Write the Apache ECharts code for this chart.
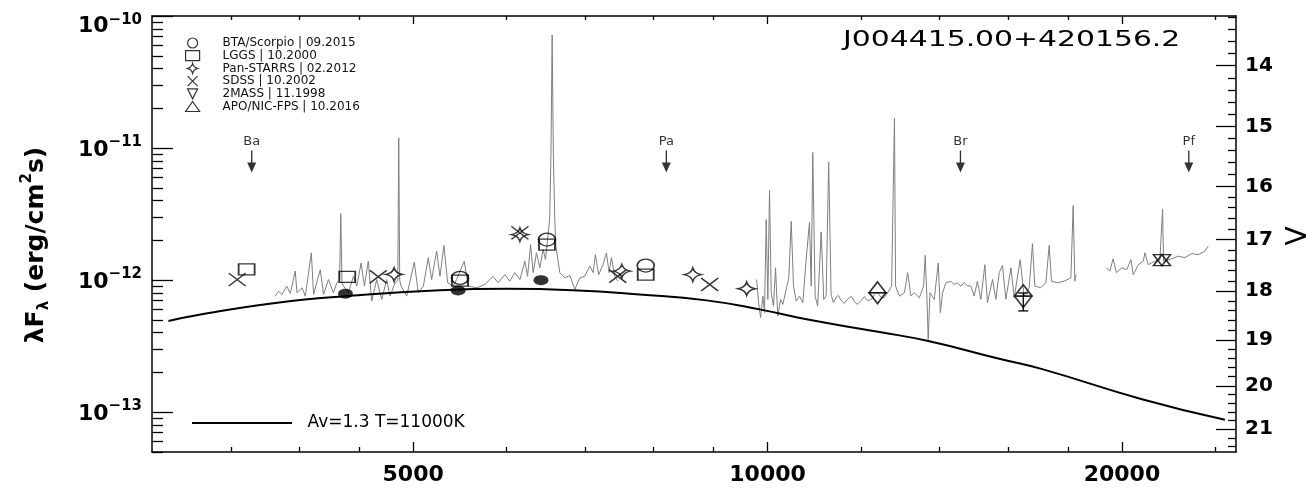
<!DOCTYPE html>
<html><head><meta charset="utf-8">
<script src="https://cdn.jsdelivr.net/npm/echarts@6/dist/echarts.min.js"></script>
<style>html,body{margin:0;padding:0;background:#fff}#c{width:1316px;height:489px}</style>
</head><body><div id="c"></div><script>
// ---------------- axes ----------------
const X_MIN = 3000, X_MAX = 25000;
const Y_MIN = 5e-14, Y_MAX = 1e-10;
const X_MAJOR_TICKS = [5000, 10000, 20000];
const X_MINOR_TICKS = [3500, 4000, 4500, 6000, 7000, 8000, 9000, 12000, 14000, 16000, 18000, 24000];
const Y_MAJOR_TICKS = [1e-13, 1e-12, 1e-11, 1e-10];
const Y_MINOR_MULT = [2, 3, 4, 5, 6, 7, 8, 9];
const V_LABELS = ['14', '15', '16', '17', '18', '19', '20', '21'];
const V_TICK_FLUX = [4.21e-11, 1.456e-11, 5.13e-12, 2.03e-12, 8.26e-13, 3.52e-13, 1.583e-13, 7.45e-14];

// ---------------- spectrum (gray) ----------------
const SPEC_OPTICAL = [
 [3818,7.57e-13],[3843,8.26e-13],[3868,7.80e-13],[3905,9.01e-13],[3932,7.93e-13],[3970,1.17e-12],[3984,8.03e-13],
 [4023,8.76e-13],[4049,7.57e-13],[4097,1.61e-12],[4115,7.80e-13],[4169,1.20e-12],[4196,7.80e-13],[4237,1.01e-12],
 [4278,8.03e-13],[4307,9.56e-13],[4330,1.0e-12],[4340,3.19e-12],[4350,9.5e-13],[4363,9.01e-13],[4405,8.03e-13],[4449,1.07e-12],
 [4478,9.01e-13],[4516,1.35e-12],[4545,9.01e-13],[4580,1.39e-12],[4611,6.94e-13],[4656,1.01e-12],[4702,7.15e-13],
 [4748,1.01e-12],[4779,7.57e-13],[4826,9.56e-13],[4852,1.0e-12],[4861,1.196e-11],[4870,1.0e-12],[4883,9.01e-13],[4937,7.57e-13],
 [5011,1.37e-12],[5050,8.03e-13],[5101,9.01e-13],[5150,1.48e-12],[5184,1.01e-12],[5235,1.66e-12],[5269,1.07e-12],
 [5310,1.83e-12],[5349,9.56e-13],[5408,9.01e-13],[5443,1.01e-12],[5525,1.39e-12],[5568,9.01e-13],[5664,8.76e-13],
 [5753,9.28e-13],[5846,1.07e-12],[5903,9.56e-13],[5982,1.10e-12],[6040,9.83e-13],[6099,1.14e-12],[6161,1.01e-12],
 [6221,1.39e-12],[6254,1.07e-12],[6291,1.86e-12],[6323,1.14e-12],[6364,1.61e-12],[6406,1.24e-12],[6447,1.71e-12],
 [6477,1.43e-12],[6503,2.03e-12],[6530,2.9e-12],[6547,9.2e-12],[6562,7.17e-11],[6577,9.2e-12],[6596,2.9e-12],
 [6610,1.81e-12],[6661,1.14e-12],[6726,1.04e-12],[6793,1.085e-12],[6860,8.51e-13],[6926,1.04e-12],[6994,1.07e-12],
 [7063,1.28e-12],[7109,1.14e-12],[7141,1.56e-12],[7187,1.10e-12],[7249,1.31e-12],[7297,1.61e-12],[7335,1.14e-12],
 [7369,1.48e-12],[7417,1.07e-12],[7464,9.83e-13]
];
const SPEC_NIR = [
 [9788,1.01e-12],[9827,6.75e-13],[9865,5.20e-13],[9909,7.57e-13],[9941,5.67e-13],[9974,2.87e-12],[10006,7.15e-13],
 [10039,4.78e-12],[10072,8.03e-13],[10117,6.36e-13],[10157,1.24e-12],[10202,5.35e-13],[10258,7.15e-13],[10304,6.55e-13],
 [10372,8.51e-13],[10424,1.04e-12],[10474,2.79e-12],[10521,9.01e-13],[10577,6.94e-13],[10645,7.57e-13],[10714,6.75e-13],
 [10784,1.43e-12],[10855,2.74e-12],[10891,9.01e-13],[10925,9.26e-12],[10976,7.57e-13],[11031,6.36e-13],[11106,2.32e-12],
 [11162,7.15e-13],[11214,7.57e-13],[11270,7.84e-12],[11324,7.80e-13],[11375,6.75e-13],[11435,7.40e-13],[11487,7.66e-13],
 [11548,7.00e-13],[11623,6.67e-13],[11696,7.20e-13],[11783,7.53e-13],[11852,6.90e-13],[11920,6.55e-13],[12006,7.00e-13],
 [12084,7.53e-13],[12161,7.00e-13],[12252,7.15e-13],[12324,7.80e-13],[12396,8.10e-13],[12486,7.40e-13],[12567,7.40e-13],
 [12647,8.03e-13],[12747,9.01e-13],
 [12818,1.685e-11],[12846,9.01e-13],[12942,7.57e-13],[13069,8.03e-13],[13152,1.14e-12],[13238,7.57e-13],[13323,8.03e-13],
 [13456,7.36e-13],[13569,9.01e-13],[13613,1.54e-12],[13659,7.15e-13],[13693,3.56e-13],[13740,8.03e-13],[13855,7.15e-13],
 [13965,1.35e-12],[14021,5.67e-13],[14084,8.03e-13],[14176,9.56e-13],[14315,9.80e-13],[14400,9.30e-13],[14499,9.50e-13],
 [14600,9.00e-13],[14691,9.60e-13],[14780,9.10e-13],
 [14885,9.01e-13],[14981,7.57e-13],[15076,9.83e-13],[15179,7.15e-13],[15297,1.31e-12],[15374,6.75e-13],[15528,1.01e-12],
 [15630,7.15e-13],[15733,1.14e-12],[15834,1.29e-12],[15939,7.15e-13],[16097,1.24e-12],[16201,7.36e-13],[16391,1.43e-12],
 [16518,7.57e-13],[16682,8.76e-13],[16790,1.89e-12],[16867,9.01e-13],[17068,8.76e-13],[17235,9.56e-13],[17348,1.83e-12],
 [17426,9.83e-13],[17629,9.56e-13],[17864,9.83e-13],[18100,1.04e-12],[18181,3.67e-12],[18240,9.83e-13],[18287,1.10e-12]
];
const SPEC_K = [
 [19407,1.24e-12],[19533,1.17e-12],[19658,1.45e-12],[19787,1.14e-12],[19996,1.24e-12],[20190,1.20e-12],[20355,1.43e-12],
 [20449,1.10e-12],[20651,1.31e-12],[20854,1.39e-12],[20922,1.61e-12],[21056,1.31e-12],[21332,1.39e-12],[21543,1.43e-12],
 [21655,3.46e-12],[21698,1.39e-12],[22045,1.45e-12],[22329,1.52e-12],[22622,1.48e-12],[22922,1.59e-12],[23218,1.56e-12],
 [23525,1.66e-12],[23677,1.81e-12]
];

// ---------------- model ----------------
const MODEL_NAME = 'Av=1.3 T=11000K';
const MODEL_WAVE = [3098, 3299, 3833, 4377, 5269, 6008, 6833, 7787, 8875, 9845, 10791, 12446, 13694, 15733, 17113, 20800, 24462];
const MODEL_FLUX = [4.90e-13, 5.50e-13, 6.75e-13, 7.57e-13, 8.40e-13, 8.61e-13, 8.40e-13, 7.80e-13, 7.03e-13, 6.01e-13, 5.05e-13, 4.05e-13, 3.46e-13, 2.54e-13, 2.12e-13, 1.256e-13, 8.76e-14];

// ---------------- photometry ----------------
const BTA = [[5480,1.04e-12],[6496,2.03e-12],[7880,1.29e-12]];
const LGGS = [[3610,1.205e-12],[4395,1.06e-12],[5480,0.99e-12],[6496,1.86e-12],[7880,1.10e-12]];
const PANSTARRS = [[4817,1.104e-12],[6161,2.21e-12],[7520,1.17e-12],[8640,1.10e-12],[9600,0.861e-12]];
const SDSS = [[3544,1.01e-12],[4670,1.06e-12],[6161,2.28e-12],[7460,1.07e-12],[8930,0.928e-12]];
const TWOMASS = [[12400,0.731e-12],[16490,0.684e-12],[21630,1.416e-12]];
const TWOMASS_ERR = [[16490,0.585e-12,0.80e-12]];
const APO = [[12400,0.881e-12],[16490,0.839e-12],[21630,1.416e-12]];
const DERED = [[4380,7.89e-13],[5460,8.36e-13],[6420,1.0e-12]];

// ---------------- series limits ----------------
const LIMIT_NAMES = ['Ba', 'Pa', 'Br', 'Pf'];
const LIMIT_WAVE = [3646, 8204, 14584, 22794];
const LIMIT_LEVEL = 7.9e-12;

const TITLE = 'J004415.00+420156.2';
const NAMES = ['BTA/Scorpio | 09.2015', 'LGGS | 10.2000', 'Pan-STARRS | 02.2012', 'SDSS | 10.2002', '2MASS | 11.1998', 'APO/NIC-FPS | 10.2016'];

// ---------------- build ----------------
const FONT = 'DejaVu Sans';
const Y_MINOR_TICKS = [];
for (let e = -14; e <= -11; e++) for (const m of Y_MINOR_MULT) { const v = m * Math.pow(10, e); if (v >= Y_MIN && v <= Y_MAX) Y_MINOR_TICKS.push(v); }
const V_MINOR = [];
const lg = V_TICK_FLUX.map(Math.log10);
for (let i = 0; i < lg.length - 1; i++) for (let k = 1; k < 5; k++) V_MINOR.push(Math.pow(10, lg[i] + (lg[i + 1] - lg[i]) * k / 5));
for (let k = 1; k < 5; k++) { const v = Math.pow(10, lg[0] - (lg[1] - lg[0]) * k / 5); if (v < Y_MAX) V_MINOR.push(v); }
const nL = lg.length;
for (let k = 1; k < 5; k++) { const v = Math.pow(10, lg[nL - 1] + (lg[nL - 1] - lg[nL - 2]) * k / 5); if (v > Y_MIN) V_MINOR.push(v); }

const AX = '#000';
function logX(pos, ticks, len, showLine, labels) {
  return {
    type: 'log', logBase: 10, min: X_MIN, max: X_MAX, position: pos,
    axisLine: { show: showLine, onZero: false, lineStyle: { color: AX, width: 1.5 } },
    axisTick: { show: true, inside: true, length: len, customValues: ticks, lineStyle: { color: AX, width: 1.3 } },
    axisLabel: labels ? { show: true, customValues: ticks, formatter: v => String(Math.round(v)), fontSize: 22, fontWeight: 'bold', fontFamily: FONT, color: '#000', margin: 12 } : { show: false },
    splitLine: { show: false }, minorTick: { show: false }
  };
}
function logY(pos, ticks, len, showLine, labelCfg) {
  return {
    type: 'log', logBase: 10, min: Y_MIN, max: Y_MAX, position: pos,
    axisLine: { show: showLine, onZero: false, lineStyle: { color: AX, width: 1.5 } },
    axisTick: { show: true, inside: true, length: len, customValues: ticks, lineStyle: { color: AX, width: 1.3 } },
    axisLabel: labelCfg ? Object.assign({ show: true, customValues: ticks }, labelCfg) : { show: false },
    splitLine: { show: false }, minorTick: { show: false }
  };
}

const SYM_STAR = 'path://M5,0Q6,4 10,5Q6,6 5,10Q4,6 0,5Q4,4 5,0Z';
const SYM_X = 'path://M0,0L10,10M10,0L0,10';
const SYM_TDOWN = 'path://M0,0L10,0L5,10Z';
const SYM_ARROW = 'path://M4.4,0L5.6,0L5.6,12L9,12L5,22L1,12L4.4,12Z';
const hollow = { color: 'rgba(0,0,0,0)', borderColor: '#000', borderWidth: 1.5 };

function marker(name, data, symbol, size) {
  return { name, type: 'scatter', data, symbol, symbolSize: size, itemStyle: hollow, z: 5, silent: true };
}
function spec(data) {
  return { type: 'line', data, symbol: 'none', lineStyle: { color: '#7f7f7f', width: 1 }, z: 1, silent: true };
}
const bold = (size, extra) => Object.assign({ fontSize: size, fontWeight: 'bold', fontFamily: FONT, color: '#000' }, extra);

const option = {
  animation: false,
  backgroundColor: '#fff',
  grid: { left: 152, right: 80, top: 16, bottom: 37, containLabel: false, outerBoundsMode: 'none' },
  xAxis: [
    logX('bottom', X_MAJOR_TICKS, 10, true, true),
    logX('bottom', X_MINOR_TICKS, 5, false, false),
    logX('top', X_MAJOR_TICKS, 8, true, false),
    logX('top', X_MINOR_TICKS, 4, false, false)
  ],
  yAxis: [
    logY('left', Y_MAJOR_TICKS, 21, true, {
      margin: 10,
      formatter: v => {
        const e = -Math.round(Math.log10(v));
        return e === 10 ? '{bt|10}{et|−10}' : '{b|10}{e|−' + e + '}';
      },
      rich: {
        b: bold(22, { lineHeight: 22, padding: [4, 0, 0, 0] }),
        e: bold(15, { lineHeight: 14, padding: [4, 0, 16, 0] }),
        bt: bold(22, { lineHeight: 22, padding: [20, 0, 0, 0] }),
        et: bold(15, { lineHeight: 14, padding: [22, 0, 14, 0] })
      }
    }),
    logY('left', Y_MINOR_TICKS, 11, false, null),
    logY('right', V_TICK_FLUX, 20, true, {
      margin: 9, fontSize: 20, fontWeight: 'bold', fontFamily: FONT, color: '#000',
      formatter: v => {
        let best = 0, d = 1e9;
        V_TICK_FLUX.forEach((f, i) => { const dd = Math.abs(Math.log10(f) - Math.log10(v)); if (dd < d) { d = dd; best = i; } });
        return V_LABELS[best];
      }
    }),
    logY('right', V_MINOR, 8, false, null)
  ],
  legend: [{
    data: NAMES, orient: 'vertical', left: 185, top: 37, padding: 0, itemWidth: 14, itemHeight: 10, itemGap: 0.7,
    selectedMode: false, itemStyle: { borderWidth: 1.2 },
    textStyle: { fontSize: 12, lineHeight: 12, color: '#111', fontFamily: FONT, padding: [0, 0, 0, 18] }
  }, {
    data: [{ name: MODEL_NAME, icon: 'path://M0,0L100,0L100,2L0,2Z' }], left: 192, top: 413, padding: 0,
    itemWidth: 101, itemHeight: 2, selectedMode: false,
    textStyle: { fontSize: 17, lineHeight: 20, color: '#000', fontFamily: FONT, padding: [0, 0, 0, 10] }
  }],
  graphic: [
    { type: 'text', x: 843, y: 41, scaleX: 1.42, style: { text: TITLE, fontSize: 21, fontFamily: FONT, fill: '#000', verticalAlign: 'middle' } },
    { type: 'text', x: 36, y: 245, rotation: Math.PI / 2, style: {
        text: '{m|λF}{s|λ}{m| (erg/cm}{p|2}{m|s)}', align: 'center', verticalAlign: 'middle',
        rich: {
          m: { fontSize: 25, fontWeight: 'bold', fontFamily: FONT, fill: '#000', lineHeight: 32, verticalAlign: 'middle' },
          s: { fontSize: 15, fontWeight: 'bold', fontFamily: FONT, fill: '#000', lineHeight: 14, verticalAlign: 'bottom' },
          p: { fontSize: 15, fontWeight: 'bold', fontFamily: FONT, fill: '#000', lineHeight: 14, verticalAlign: 'top' }
        } } },
    { type: 'text', x: 1299, y: 236, rotation: Math.PI / 2, style: { text: 'V', fontSize: 28, fontFamily: FONT, fill: '#000', align: 'center', verticalAlign: 'middle' } }
  ],
  series: [
    spec(SPEC_OPTICAL), spec(SPEC_NIR), spec(SPEC_K),
    { name: MODEL_NAME, type: 'line', data: MODEL_WAVE.map((w, i) => [w, MODEL_FLUX[i]]), symbol: 'none', smooth: true,
      lineStyle: { color: '#000', width: 2 }, itemStyle: { color: '#000' }, z: 3, silent: true },
    { type: 'scatter', data: DERED, symbol: 'circle', symbolSize: [15, 10], itemStyle: { color: '#000' }, z: 4, silent: true },
    marker(NAMES[0], BTA, 'circle', [17, 13]),
    marker(NAMES[1], LGGS, 'rect', [16, 11]),
    marker(NAMES[2], PANSTARRS, SYM_STAR, [17, 13]),
    marker(NAMES[3], SDSS, SYM_X, [17, 13]),
    marker(NAMES[4], TWOMASS, SYM_TDOWN, [17, 11]),
    marker(NAMES[5], APO, 'triangle', [17, 11]),
    { type: 'custom', data: TWOMASS_ERR, z: 5, silent: true,
      renderItem: (params, api) => {
        const x = api.value(0);
        const a = api.coord([x, api.value(1)]), b = api.coord([x, api.value(2)]);
        const st = { stroke: '#000', lineWidth: 1.3 };
        return { type: 'group', children: [
          { type: 'line', shape: { x1: a[0], y1: a[1], x2: b[0], y2: b[1] }, style: st },
          { type: 'line', shape: { x1: a[0] - 5, y1: a[1], x2: a[0] + 5, y2: a[1] }, style: st },
          { type: 'line', shape: { x1: b[0] - 5, y1: b[1], x2: b[0] + 5, y2: b[1] }, style: st }
        ] };
      } },
    { type: 'scatter', data: LIMIT_WAVE.map((w, i) => ({ name: LIMIT_NAMES[i], value: [w, LIMIT_LEVEL] })),
      symbol: SYM_ARROW, symbolSize: [9, 22], itemStyle: { color: '#000' }, z: 5, silent: true,
      label: { show: true, position: 'top', distance: 2, formatter: p => p.name, fontSize: 13, fontFamily: FONT, color: '#000' } }
  ]
};
echarts.init(document.getElementById('c')).setOption(option);
</script></body></html>
